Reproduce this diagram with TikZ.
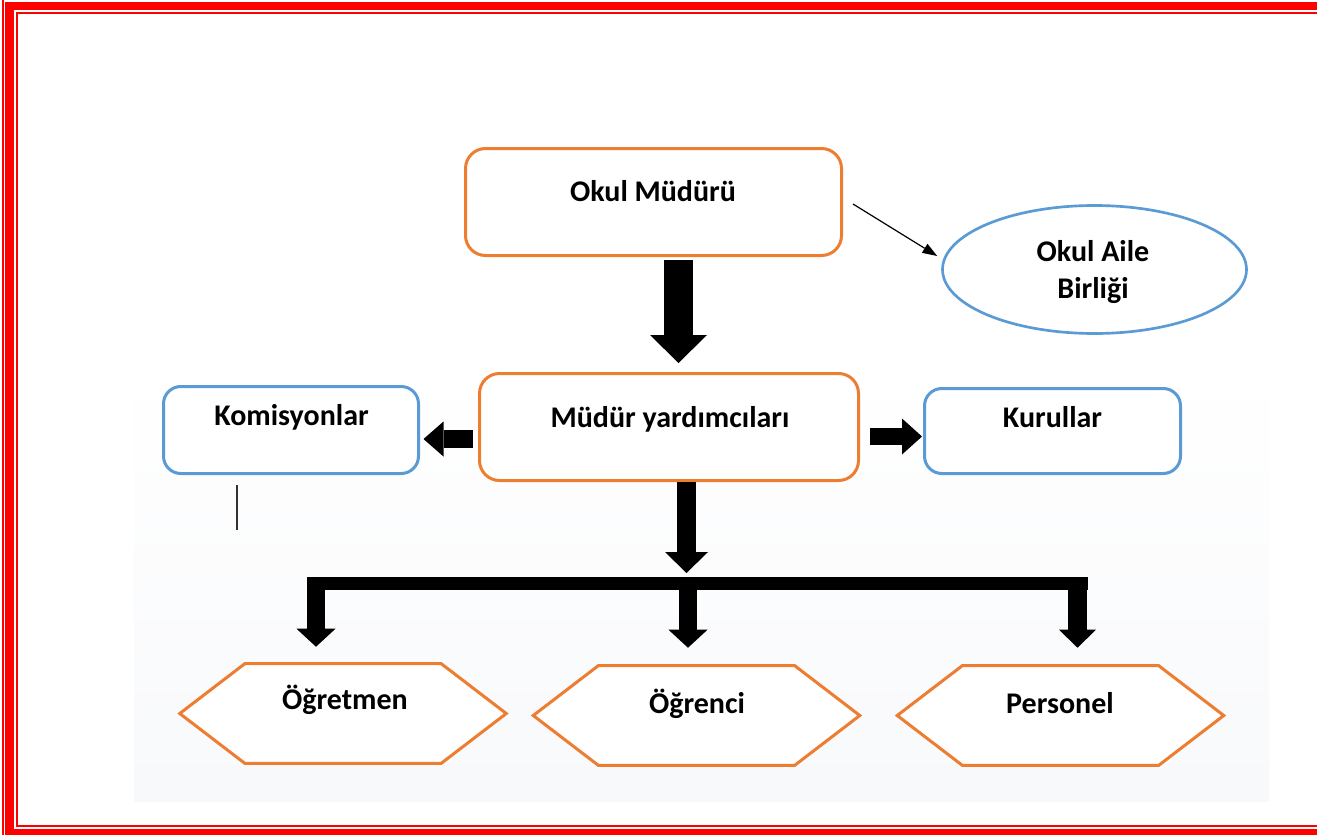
\documentclass[tikz,border=0pt]{standalone}
\usepackage{fontspec}
\setmainfont{Carlito}
\usetikzlibrary{arrows.meta,calc,shapes.geometric}
\definecolor{ofcOrange}{HTML}{ED7D31}
\definecolor{ofcBlue}{HTML}{5B9BD5}
\definecolor{bgGray}{HTML}{F8F9FB}
\definecolor{frameRed}{HTML}{FF0000}
\newdimen\pxu \pxu=0.75pt
\begin{document}
\begin{tikzpicture}[x=0.75pt,y=-0.75pt,
  lbl/.style={font=\fontsize{22.5}{27.75}\selectfont\bfseries, inner sep=0pt},
  sz/.style 2 args={minimum width=#1*\pxu, minimum height=#2*\pxu},
  obox/.style={draw=ofcOrange, line width=2.25pt, fill=white, rounded corners=15pt, inner sep=0pt},
  bbox/.style={draw=ofcBlue, line width=2.25pt, fill=white, rounded corners=13pt, inner sep=0pt},
  oval/.style={ellipse, draw=ofcBlue, line width=2pt, fill=white, inner sep=0pt},
  hexframe/.style={inner sep=0pt},
  hexd/.style={draw=ofcOrange, line width=2.25pt, fill=white, line join=miter},
  blk/.style n args={3}{line width=#1, -{Triangle[width=#2,length=#3,line width=0pt]}},
  thinarrow/.style={line width=0.9pt, -{Triangle[width=8pt,length=11pt,line width=0pt]}},
]
\useasboundingbox (0,0) rectangle (1317,835);
% background
\fill[white] (0,0) rectangle (1317,835);
\shade[top color=white, bottom color=bgGray] (134,363) rectangle (1269,801);
% page frame (red)
\fill[frameRed] (2,0) rectangle (4,835);
\fill[frameRed] (5,2) rectangle (14,835);
\fill[frameRed] (5,2) rectangle (1317,10);
\fill[frameRed] (5,829) rectangle (1317,835);
\fill[frameRed] (16,12) rectangle (18,827);
\fill[frameRed] (16,12) rectangle (1317,14);
\fill[frameRed] (16,825) rectangle (1317,827);

% boxes
\node[obox, sz={376}{107}] (okul) at (653.5,202) {};
\node[obox, sz={379}{107}] (myard) at (669,427) {};
\node[bbox, sz={255}{87}] (komis) at (291,430) {};
\node[bbox, sz={256}{85}] (kurul) at (1052.5,431) {};
\node[oval, sz={304}{128}] (aile) at (1094.5,269.5) {};

\node[hexframe, sz={326}{99}] (hex1) at (343,713.5) {};
\node[hexframe, sz={326}{99}] (hex2) at (696.5,715.5) {};
\node[hexframe, sz={326}{99}] (hex3) at (1060.5,715.5) {};
\foreach \h in {hex1,hex2,hex3}{
  \draw[hexd] (\h.west) -- ($(\h.north west)+(65,0)$) -- ($(\h.north east)+(-65,0)$)
    -- (\h.east) -- ($(\h.south east)+(-65,0)$) -- ($(\h.south west)+(65,0)$) -- cycle;
}

% labels
\node[lbl, anchor=base] (okult) at (653,201) {Okul Müdürü};
\node[lbl, anchor=base] (myardt) at (670,427) {Müdür yardımcıları};
\node[lbl, anchor=base] (komist) at (291.5,425) {Komisyonlar};
\node[lbl, anchor=base] (kurult) at (1052.5,427) {Kurullar};
\node[lbl, align=center] (ailet) at (1093,272) {Okul Aile\\Birliği};
\node[lbl, anchor=base] (hex1t) at (345,709) {Öğretmen};
\node[lbl, anchor=base] (hex2t) at (697,713) {Öğrenci};
\node[lbl, anchor=base] (hex3t) at (1060,713) {Personel};

% connectors
\draw[thinarrow] ($(okul.east)+(10,2)$) -- ($(aile.west)+(-4,-13.5)$);
\draw[blk={21.75pt}{42.75pt}{21pt}] ($(okul.south)+(25,3)$) -- ($(myard.north)+(9.5,-9)$);
\draw[blk={13.5pt}{26.25pt}{15pt}] ($(myard.west)+(-5,12)$) -- ($(komis.east)+(3.5,9)$);
\draw[blk={12.75pt}{27pt}{15pt}] ($(myard.east)+(10,9.5)$) -- ($(kurul.west)+(-1,5.5)$);
\draw[line width=1pt, black!80] ($(komis.south)+(-54,10)$) -- ($(komis.south)+(-54,55)$);

% distribution bar
\coordinate (barL) at (307,583.5);
\coordinate (barR) at (1087.5,583.5);
\coordinate (barM) at (686.5,577);
\coordinate (bL) at (316,583.5);
\coordinate (bM) at (688,583.5);
\coordinate (bR) at (1077.5,583.5);
\draw[blk={14.25pt}{32.25pt}{15.75pt}] ($(myard.south)+(17.5,0)$) -- ($(barM)+(0,-4)$);
\draw[line width=9.75pt] (barL) -- (barR);
\draw[blk={13.5pt}{29.25pt}{13.5pt}] (bL) -- ($(hex1.north)+(-27,-17)$);
\draw[blk={13.5pt}{29.25pt}{13.5pt}] (bM) -- ($(hex2.north)+(-8.5,-18)$);
\draw[blk={14.25pt}{27.75pt}{13.5pt}] (bR) -- ($(hex3.north)+(17,-18)$);
\end{tikzpicture}
\end{document}
